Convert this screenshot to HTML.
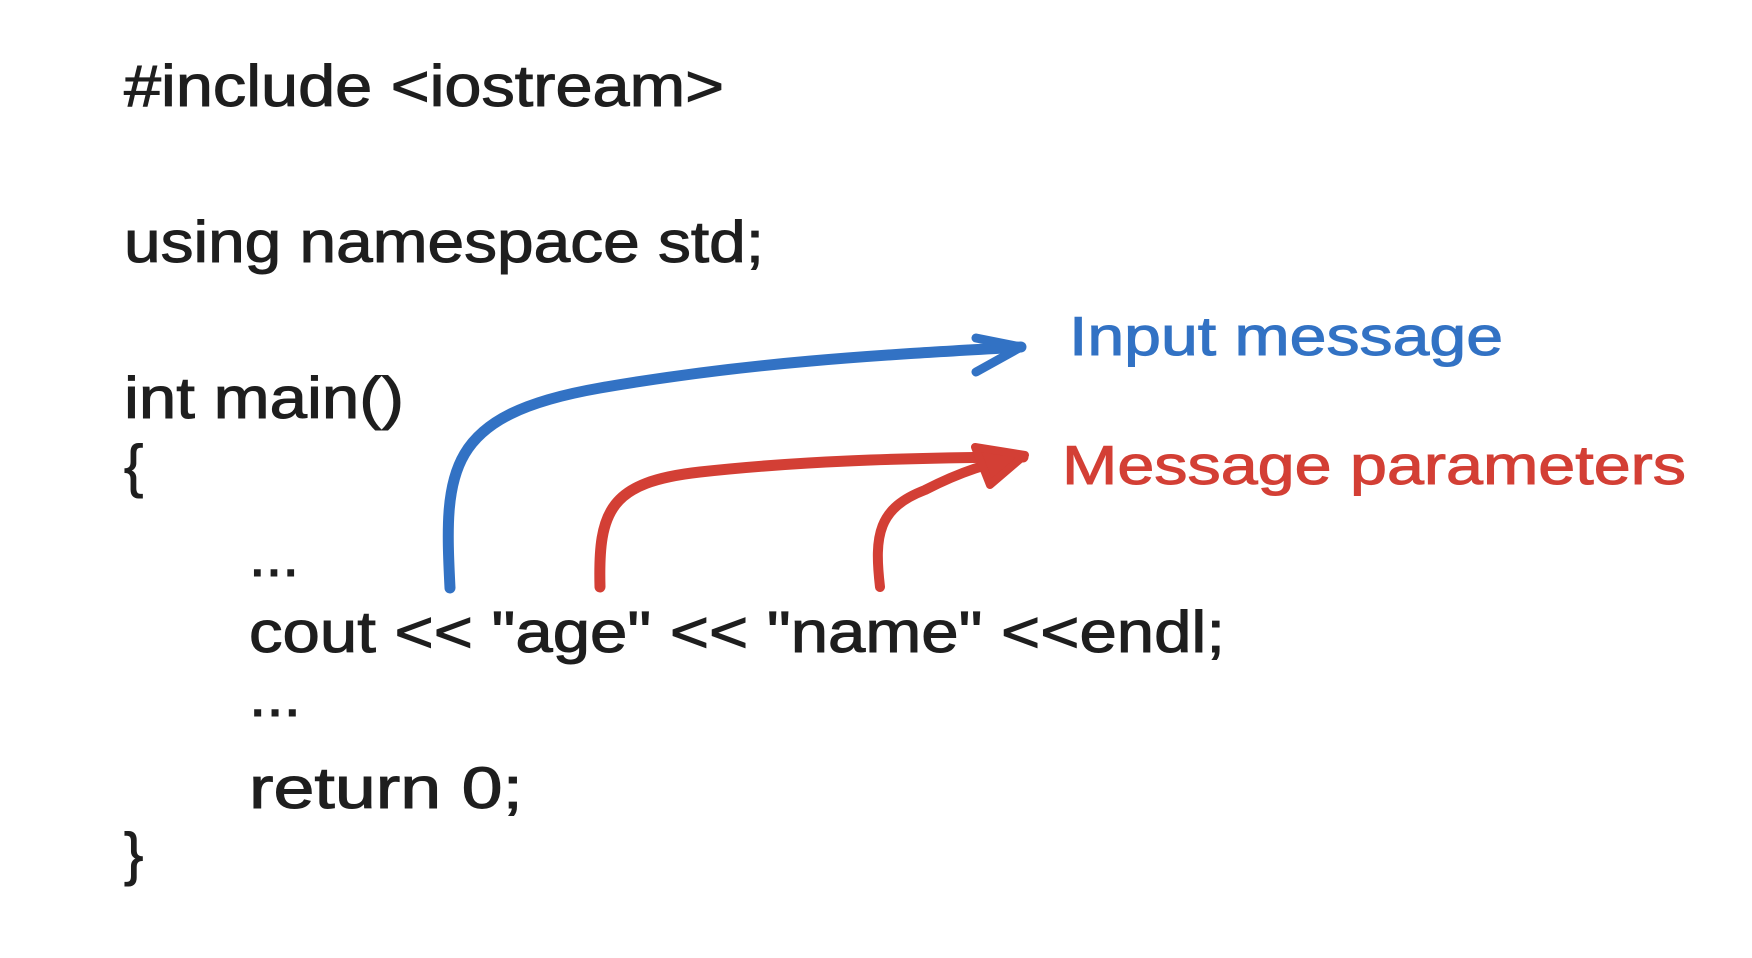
<!DOCTYPE html>
<html><head><meta charset="utf-8"><style>
html,body{margin:0;padding:0;background:#fff;}
svg{display:block;}
text{font-family:"Liberation Sans",sans-serif;}
</style></head><body>
<svg width="1752" height="958" viewBox="0 0 1752 958" xmlns="http://www.w3.org/2000/svg">
<g fill="#1e1e1e" font-size="58" stroke="#1e1e1e" stroke-width="1">
<text x="124" y="106" textLength="600" lengthAdjust="spacingAndGlyphs">#include &lt;iostream&gt;</text>
<text x="124" y="262" textLength="640" lengthAdjust="spacingAndGlyphs">using namespace std;</text>
<text x="124" y="418" textLength="280" lengthAdjust="spacingAndGlyphs">int main()</text>
<text x="124" y="486">{</text>
<text x="249" y="576" textLength="50" lengthAdjust="spacingAndGlyphs">...</text>
<text x="249" y="652" textLength="976" lengthAdjust="spacingAndGlyphs">cout &lt;&lt; "age" &lt;&lt; "name" &lt;&lt;endl;</text>
<text x="249" y="716" textLength="52" lengthAdjust="spacingAndGlyphs">...</text>
<text x="249" y="808" textLength="274" lengthAdjust="spacingAndGlyphs">return 0;</text>
<text x="124" y="874">}</text>
</g>
<text x="1069" y="355" font-size="55" fill="#3272c4" stroke="#3272c4" stroke-width="1" textLength="434" lengthAdjust="spacingAndGlyphs">Input message</text>
<text x="1062" y="484" font-size="55" fill="#d33f35" stroke="#d33f35" stroke-width="1" textLength="624" lengthAdjust="spacingAndGlyphs">Message parameters</text>
<g fill="none" stroke-linecap="round" stroke-linejoin="round">
<path d="M450 588 C444 470,445 415,600 388 C750 362,880 355,1021 347" stroke="#3272c4" stroke-width="11"/>
<path d="M976 338 L1021 347 L976 372" stroke="#3272c4" stroke-width="9"/>
<path d="M600 587 C598 510,610 482,700 472 C800 461,900 458,1023 457" stroke="#d33f35" stroke-width="11"/>
<path d="M880 587 C874 535,878 508,925 490 C960 472,990 462,1023 457" stroke="#d33f35" stroke-width="10"/>
</g>
<path d="M975 447 L1025 455 L990 485 Z" fill="#d33f35" stroke="#d33f35" stroke-width="8" stroke-linejoin="round"/>
</svg>
</body></html>
